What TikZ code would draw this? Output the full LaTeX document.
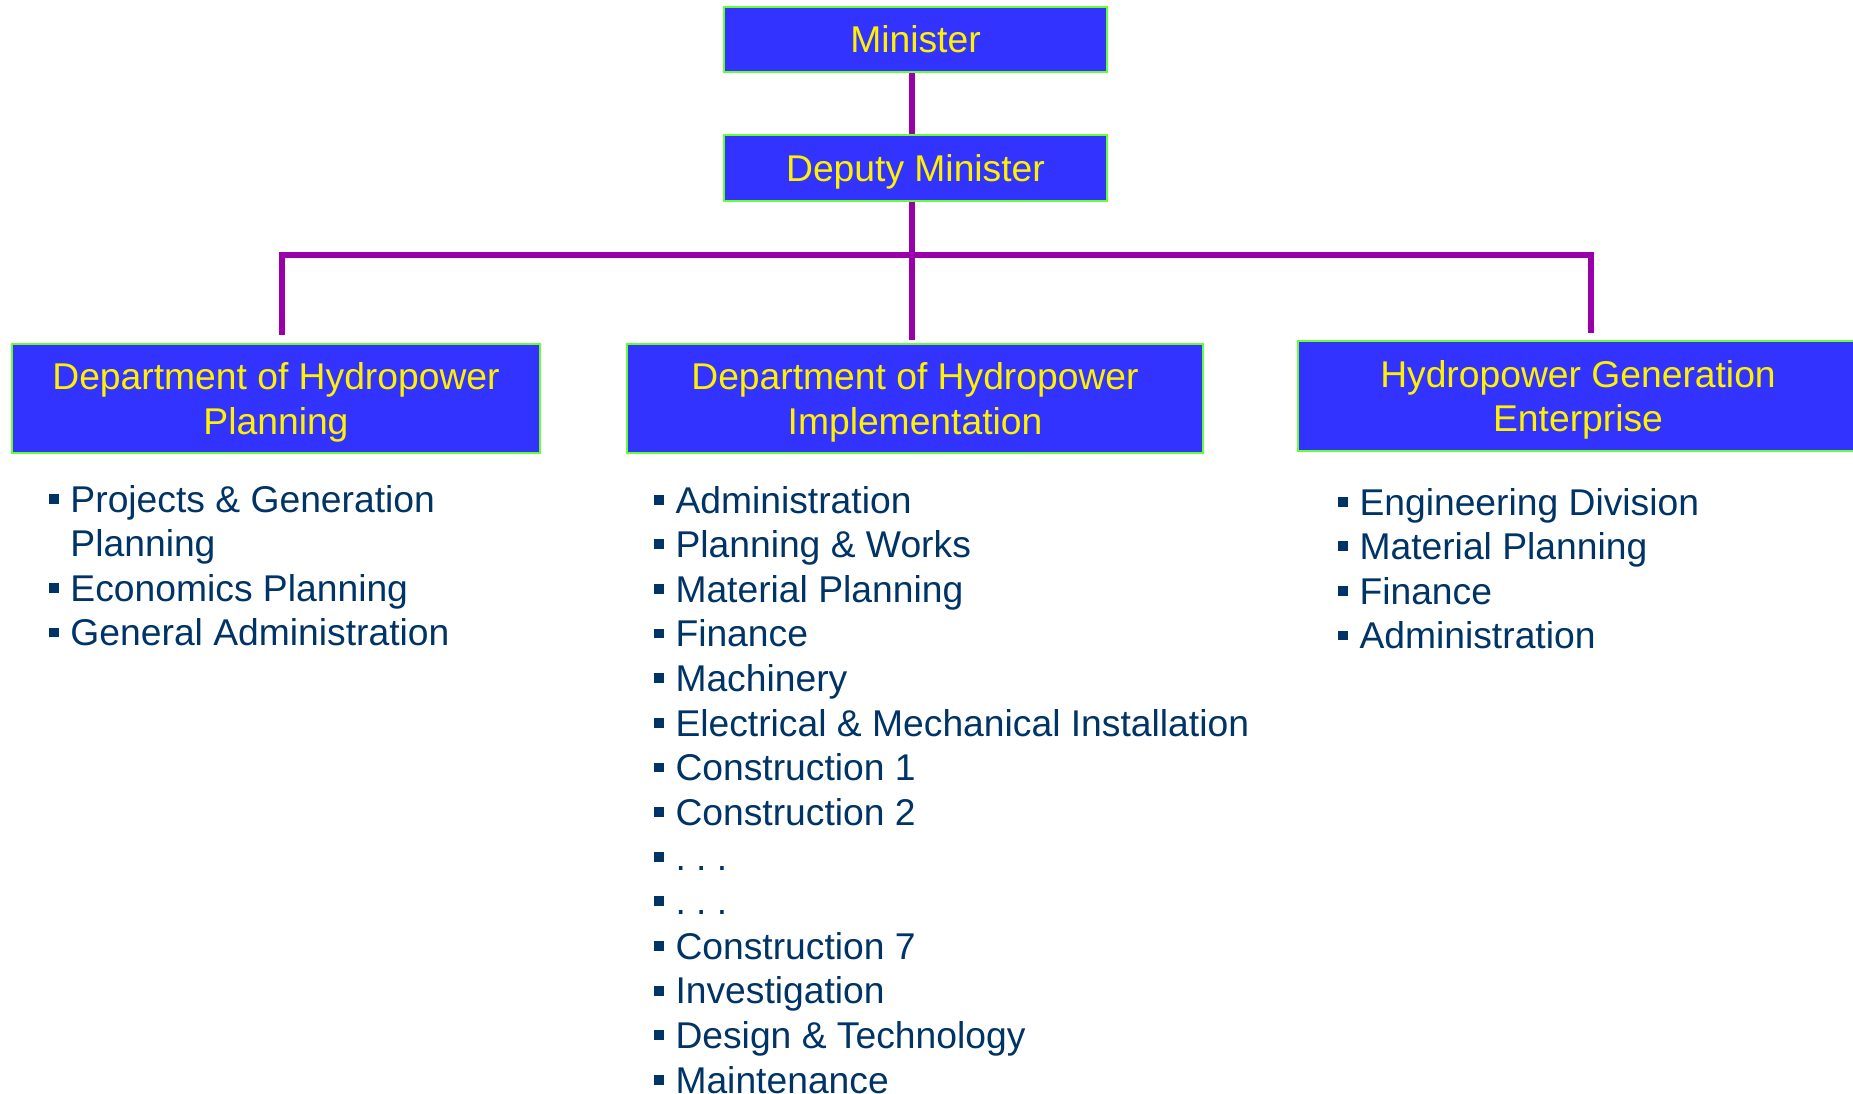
\documentclass[tikz,border=0pt]{standalone}
\usepackage{fontspec}
\setmainfont{Liberation Sans}
\definecolor{boxblue}{HTML}{3333FF}
\definecolor{boxgreen}{HTML}{66FF33}
\definecolor{linkpurple}{HTML}{9900AA}
\definecolor{itemblue}{HTML}{003366}
\newcommand{\sqbul}{\raisebox{2.4pt}{\rule{2.8pt}{2.8pt}}}
\begin{document}
\begin{tikzpicture}[unit/.style={draw=boxgreen, line width=0.8pt, fill=boxblue, text=yellow, align=center, inner sep=0pt, text depth=0pt, font=\fontsize{10.6}{12.8}\selectfont},
	link/.style={draw=linkpurple, line width=1.7pt},
	items/.style={anchor=base west, inner sep=0pt, text=itemblue, font=\fontsize{10.6}{12.7}\selectfont}]
				\useasboundingbox (0,0) rectangle (18.53,-10.94);
				\node[unit, minimum width=3.83cm, minimum height=0.65cm] (minister) at (9.155,-0.395) {Minister};
				\node[unit, minimum width=3.83cm, minimum height=0.66cm] (deputy) at (9.155,-1.68) {Deputy Minister};
				\node[unit, minimum width=5.28cm, minimum height=1.09cm] (dplan) at (2.76,-3.985) {Department of Hydropower\\Planning};
				\node[unit, minimum width=5.76cm, minimum height=1.09cm] (dimpl) at (9.15,-3.985) {Department of Hydropower\\Implementation};
				\node[unit, minimum width=5.6cm, minimum height=1.1cm] (hgen) at (15.78,-3.96) {Hydropower Generation\\Enterprise};
				\coordinate (hub) at (9.12,-2.55);
				\draw[link] ([xshift=-0.035cm]minister.south) -- ([xshift=-0.035cm]deputy.north);
				\draw[link, shorten >=0.03cm] ([xshift=-0.035cm]deputy.south) -- ([xshift=-0.03cm]dimpl.north);
				\draw[link, shorten <=0.08cm, shorten >=0.07cm] ([xshift=0.06cm]dplan.north) |- (hub) -| ([xshift=0.13cm]hgen.north);
				\node[items] (plist) at (0.48,-5.12) {\begin{tabular}[t]{@{}l@{\hspace{3.4pt}}l@{}}
					\sqbul & Projects \& Generation\\
					 & Planning\\
					\sqbul & Economics Planning\\
					\sqbul & General Administration
				\end{tabular}};
				\node[items] (ilist) at (6.53,-5.13) {\begin{tabular}[t]{@{}l@{\hspace{3.4pt}}l@{}}
					\sqbul & Administration\\
					\sqbul & Planning \& Works\\
					\sqbul & Material Planning\\
					\sqbul & Finance\\
					\sqbul & Machinery\\
					\sqbul & Electrical \& Mechanical Installation\\
					\sqbul & Construction 1\\
					\sqbul & Construction 2\\
					\sqbul & .\ .\ .\\
					\sqbul & .\ .\ .\\
					\sqbul & Construction 7\\
					\sqbul & Investigation\\
					\sqbul & Design \& Technology\\
					\sqbul & Maintenance
				\end{tabular}};
				\node[items] (glist) at (13.37,-5.15) {\begin{tabular}[t]{@{}l@{\hspace{3.4pt}}l@{}}
					\sqbul & Engineering Division\\
					\sqbul & Material Planning\\
					\sqbul & Finance\\
					\sqbul & Administration
				\end{tabular}};
			\end{tikzpicture}
\end{document}
